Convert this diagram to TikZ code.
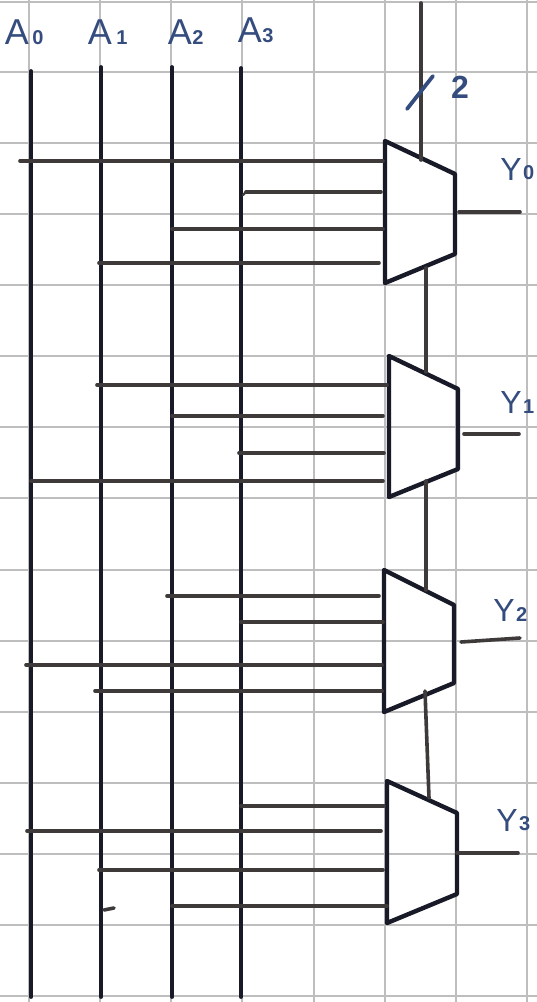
\documentclass[tikz,border=0pt]{standalone}
\usepackage{fontspec}
\setmainfont{Liberation Sans}
\definecolor{gridGray}{RGB}{190,190,190}
\definecolor{busBlack}{RGB}{24,26,40}
\definecolor{wireGray}{RGB}{62,58,58}
\definecolor{inkBlue}{RGB}{52,76,126}
\usetikzlibrary{positioning,calc}

\begin{document}
\begin{tikzpicture}[
        x=1pt, y=-1pt,
        every node/.style={inner sep=0pt},
        ink/.style={text=inkBlue, font=\fontsize{36}{36}\selectfont},
        sub/.style={text=inkBlue, font=\fontsize{20}{20}\selectfont\bfseries},
        grid/.style={draw=gridGray, line width=2.2pt},
        bus/.style={draw=busBlack, line width=3.8pt, line cap=round},
        wire/.style={draw=wireGray, line width=3.6pt, line cap=round},
        mux/.style={draw=busBlack, line width=4.4pt, line join=round, line cap=round}
      ]
        \useasboundingbox (0,0) rectangle (537,1002);
        % Paper grid
        \foreach \gx in {29,100,171,242,314,385,456,527}
          \draw[grid] (\gx,0) -- (\gx,1002);
        \foreach \gy in {2,72,143,214,285,356,427,498,570,641,712,783,854,925,996}
          \draw[grid] (0,\gy) -- (537,\gy);
        % Address lines
        \foreach \n/\bx/\by in {0/31/71,1/101/67,2/172/67,3/241/68} {
          \coordinate (top\n) at (\bx,\by);
          \coordinate (end\n) at (\bx,997);
          \draw[bus] (top\n) -- (end\n);
        }
        % Labels on top
        \node[ink] (labA0) at (17,32) {A};
        \node[sub, right=3pt of labA0.south east, anchor=south west] (subA0) {0};
        \node[ink] (labA1) at (100,32) {A};
        \node[sub, right=4pt of labA1.south east, anchor=south west] (subA1) {1};
        \node[ink] (labA2) at (180,32) {A};
        \node[sub, right=0pt of labA2.south east, anchor=south west] (subA2) {2};
        \node[ink] (labA3) at (250,30) {A};
        \node[sub, right=0pt of labA3.south east, anchor=south west] (subA3) {3};
        % Four mux bodies
        \foreach \m/\ax/\ay/\bx/\by/\cy/\dy in {
          0/385/141/455/174/254/283,
          1/389/356/458/389/469/497,
          2/384/570/454/605/683/712,
          3/387/781/457/813/894/923} {
          \coordinate (mux\m tl) at (\ax,\ay);
          \coordinate (mux\m tr) at (\bx,\by);
          \coordinate (mux\m br) at (\bx,\cy);
          \coordinate (mux\m bl) at (\ax,\dy);
          \draw[mux] (mux\m tl) -- (mux\m tr) -- (mux\m br) -- (mux\m bl) -- cycle;
        }
        % Mux inputs
        \foreach \i/\xa/\xb/\iy in {
          a/20/383/161, b/246/381/192, c/172/383/229, d/99/379/263,
          e/97/387/385, f/172/383/416, g/239/384/453, h/31/383/481,
          i/167/379/596, j/241/383/622, k/26/382/665, l/95/382/691,
          m/241/384/806, n/27/381/831, o/99/383/870, p/172/387/906} {
          \coordinate (in\i) at (\xa,\iy);
          \coordinate (to\i) at (\xb,\iy);
          \draw[wire] (in\i) -- (to\i);
        }
        \coordinate (hook) at (243,195);
        \draw[wire, line width=2.4pt] (hook) -- (inb);
        % Select line running through
        \coordinate (selTop) at (421,3);
        \coordinate (selA) at (421,160);
        \coordinate (selB) at (426,268);
        \coordinate (selC) at (426,372);
        \coordinate (selD) at (426,481);
        \coordinate (selE) at (426,590);
        \coordinate (selF) at (425,691);
        \coordinate (selG) at (429,798);
        \draw[wire] (selTop) -- (selA);
        \draw[wire] (selB) -- (selC);
        \draw[wire] (selD) -- (selE);
        \draw[wire] (selF) -- (selG);
        % Width mark
        \coordinate (slashA) at (407,109);
        \coordinate (slashB) at (433,76);
        \draw[draw=inkBlue, line width=3.8pt, line cap=round] (slashA) -- (slashB);
        \node[ink, font=\fontsize{32}{32}\selectfont\bfseries] (width) at (460,87) {2};
        % Outputs
        \foreach \o/\ox/\oy/\px/\py/\lx/\ly in {
          0/459/212/520/212/511/169,
          1/464/434/519/434/511/402,
          2/461/642/520/638/504/610,
          3/457/853/518/853/507/820} {
          \coordinate (out\o) at (\ox,\oy);
          \coordinate (y\o) at (\px,\py);
          \draw[wire] (out\o) -- (y\o);
          \node[ink, font=\fontsize{32}{32}\selectfont] (labY\o) at (\lx,\ly) {Y};
          \node[sub, right=1pt of labY\o.south east, anchor=south west] (subY\o) {\o};
        }
        % Stray mark
        \coordinate (tickA) at (104,910);
        \coordinate (tickB) at (114,908);
        \draw[wire] (tickA) -- (tickB);
      \end{tikzpicture}
\end{document}
